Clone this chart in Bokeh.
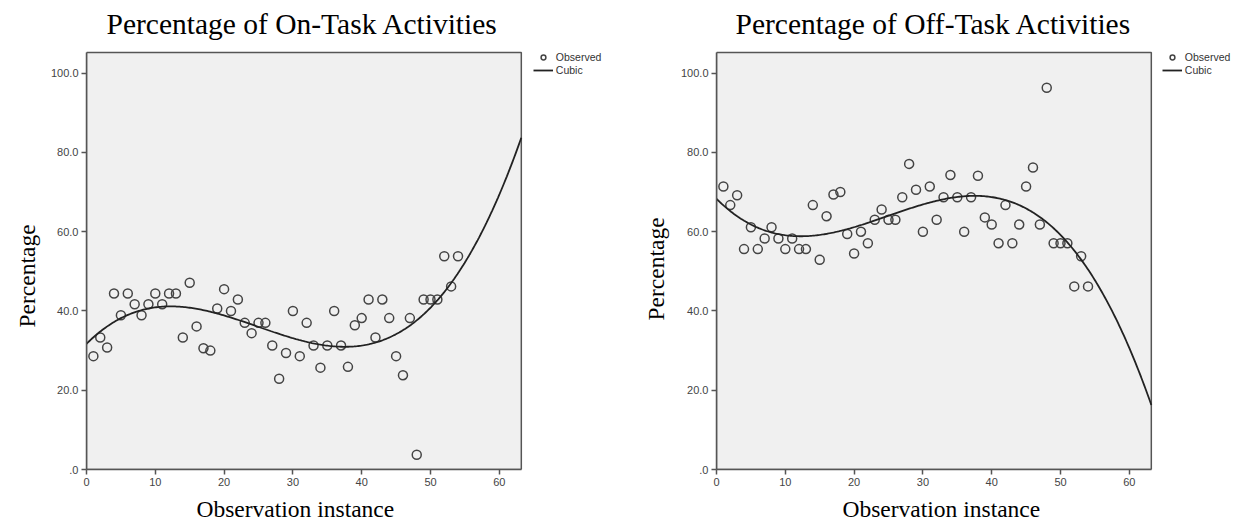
import numpy as np
from bokeh.plotting import figure
from bokeh.layouts import row
from bokeh.models import Legend, LegendItem, Range1d, FixedTicker, Title
from bokeh.embed import file_html
from bokeh.resources import INLINE

instances = list(range(1, 55))
on_task = [28.6, 33.3, 30.8, 44.4, 38.9, 44.4, 41.7, 38.9, 41.7, 44.4,
           41.7, 44.4, 44.4, 33.3, 47.1, 36.1, 30.6, 30.0, 40.6, 45.5,
           40.0, 42.9, 37.0, 34.4, 37.0, 37.0, 31.3, 22.9, 29.4, 40.0,
           28.6, 37.0, 31.3, 25.7, 31.3, 40.0, 31.3, 25.9, 36.4, 38.2,
           42.9, 33.3, 42.9, 38.2, 28.6, 23.8, 38.2, 3.7, 42.9, 42.9,
           42.9, 53.8, 46.2, 53.8]
off_task = [71.4, 66.7, 69.2, 55.6, 61.1, 55.6, 58.3, 61.1, 58.3, 55.6,
            58.3, 55.6, 55.6, 66.7, 52.9, 63.9, 69.4, 70.0, 59.4, 54.5,
            60.0, 57.1, 63.0, 65.6, 63.0, 63.0, 68.7, 77.1, 70.6, 60.0,
            71.4, 63.0, 68.7, 74.3, 68.7, 60.0, 68.7, 74.1, 63.6, 61.8,
            57.1, 66.7, 57.1, 61.8, 71.4, 76.2, 61.8, 96.3, 57.1, 57.1,
            57.1, 46.2, 53.8, 46.2]
titles = ["Percentage of On-Task Activities", "Percentage of Off-Task Activities"]
y_ticks = [0, 20, 40, 60, 80, 100]
y_tick_labels = [".0", "20.0", "40.0", "60.0", "80.0", "100.0"]
x_ticks = [0, 10, 20, 30, 40, 50, 60]
x_label = "Observation instance"
y_label = "Percentage"
legend_labels = ["Observed", "Cubic"]
x_max = 63.2
y_max = 105.2

SERIF = "Liberation Serif"
SANS = "Liberation Sans"
H = 527
TOP = 44
BOTTOM = 57
PX_X = 6.88     # pixels per x unit
PX_Y = 3.973    # pixels per y unit


def make_panel(title, values, width, left, right, leg_dx, title_dx,
               xlab_dx, ylab_dy, ylab_standoff):
    frame_w = width - left - right
    frame_h = H - TOP - BOTTOM
    x_end = frame_w / PX_X
    y_end = frame_h / PX_Y
    data_w = PX_X * x_max
    p = figure(width=width, height=H, output_backend="svg", toolbar_location=None,
               x_range=Range1d(0, x_end), y_range=Range1d(0, y_end),
               min_border_left=left, min_border_right=right,
               min_border_top=TOP, min_border_bottom=BOTTOM)
    p.background_fill_color = "white"
    p.border_fill_color = "white"
    p.outline_line_color = None
    p.grid.visible = False

    # plot area (SPSS style grey box)
    p.quad(left=[0], right=[x_max], bottom=[0], top=[y_max],
           fill_color="#f0f0f0", line_color="#555555", line_width=1.5)

    p.title.text = title
    p.title.text_font = SERIF
    p.title.text_font_size = "29.5px"
    p.title.text_font_style = "normal"
    p.title.align = "left"
    p.title.offset = title_dx
    p.title.text_color = "black"
    p.title.standoff = 9

    for ax in (p.xaxis[0], p.yaxis[0]):
        ax.axis_line_color = "#555555"
        ax.axis_line_width = 1.5
        ax.major_tick_line_color = "#555555"
        ax.major_tick_line_width = 1.5
        ax.major_tick_out = 5
        ax.major_tick_in = 0
        ax.minor_tick_line_color = None
        ax.major_label_text_font = SANS
        ax.major_label_text_font_size = "11px"
        ax.major_label_text_color = "#444444"
        ax.major_label_standoff = 3

    p.xaxis.bounds = (0, x_max)
    p.yaxis.bounds = (0, y_max)
    p.xaxis.ticker = FixedTicker(ticks=x_ticks)
    p.yaxis.ticker = FixedTicker(ticks=y_ticks)
    p.yaxis.major_label_overrides = {t: l for t, l in zip(y_ticks, y_tick_labels)}

    # axis titles (positioned like the SPSS output)
    xt = Title(text=x_label, text_font=SERIF, text_font_size="23.5px",
               text_font_style="normal", text_color="black",
               align="left", offset=xlab_dx, standoff=11)
    p.add_layout(xt, "below")
    yt = Title(text=y_label, text_font=SERIF, text_font_size="23.5px",
               text_font_style="normal", text_color="black",
               align="left", offset=ylab_dy, standoff=ylab_standoff)
    p.add_layout(yt, "left")

    coeffs = np.polyfit(instances, values, 3)
    xs = np.linspace(0, x_max, 300)
    ys = np.polyval(coeffs, xs)

    pts = p.scatter(instances, values, size=9, marker="circle", fill_color=None,
                    line_color="#444444", line_width=1.5)
    ln = p.line(xs, ys, line_color="#222222", line_width=1.8)

    legend = Legend(items=[LegendItem(label=legend_labels[0], renderers=[pts]),
                           LegendItem(label=legend_labels[1], renderers=[ln])],
                    location=(data_w + leg_dx, frame_h - 33))
    legend.margin = 0
    legend.padding = 0
    legend.spacing = 1
    legend.border_line_color = None
    legend.background_fill_alpha = 0
    legend.label_text_font = SANS
    legend.label_text_font_size = "10.5px"
    legend.label_text_color = "#333333"
    legend.label_height = 12
    legend.glyph_height = 12
    legend.glyph_width = 20
    legend.label_standoff = 3
    p.add_layout(legend)
    return p


W1 = 610
p1 = make_panel(titles[0], on_task, W1, 86, 0, 12, 20, 110, 142, 16)
p2 = make_panel(titles[1], off_task, 1238 - W1, 716 - W1, 0, 11, 19, 126, 149, 18)
layout = row(p1, p2)

open("out.html", "w").write(file_html(layout, INLINE))
